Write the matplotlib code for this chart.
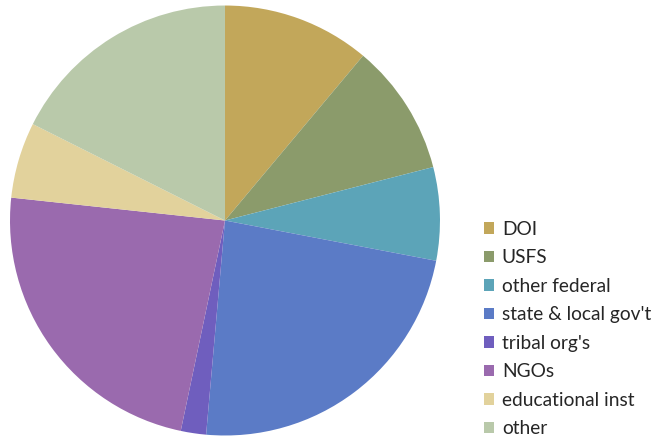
import matplotlib
matplotlib.use("Agg")
import matplotlib.pyplot as plt
from matplotlib.patches import Patch

# Share of partners by type (percent)
labels = ["DOI", "USFS", "other federal", "state & local gov't",
          "tribal org's", "NGOs", "educational inst", "other"]
shares = [11.1, 9.9, 7.0, 23.4, 1.9, 23.4, 5.7, 17.6]
colors = ["#C2A75A", "#8B9B6B", "#5CA4B8", "#5B7BC6",
          "#6F5EBE", "#9A6AAE", "#E2D29C", "#B9C9AA"]

plt.rcParams['font.family'] = ['Lato', 'DejaVu Sans']

fig = plt.figure(figsize=(6.71, 4.38), dpi=100)
ax = fig.add_axes([0.0149, 0.0057, 0.6408, 0.9817])
ax.pie(shares, colors=colors, startangle=90, counterclock=False,
       radius=1.0, wedgeprops=dict(linewidth=0))
ax.set_xlim(-1, 1)
ax.set_ylim(-1, 1)
ax.set_aspect('equal')
ax.axis('off')

handles = [Patch(facecolor=c, edgecolor='none', label=l) for c, l in zip(colors, labels)]
fig.legend(handles=handles, loc='upper left', bbox_to_anchor=(0.695, 0.535),
           frameon=False, fontsize=13.8, handlelength=0.55, handleheight=0.55,
           handletextpad=0.4, labelspacing=0.6, labelcolor='#262626')

fig.savefig("out.png", dpi=100)
